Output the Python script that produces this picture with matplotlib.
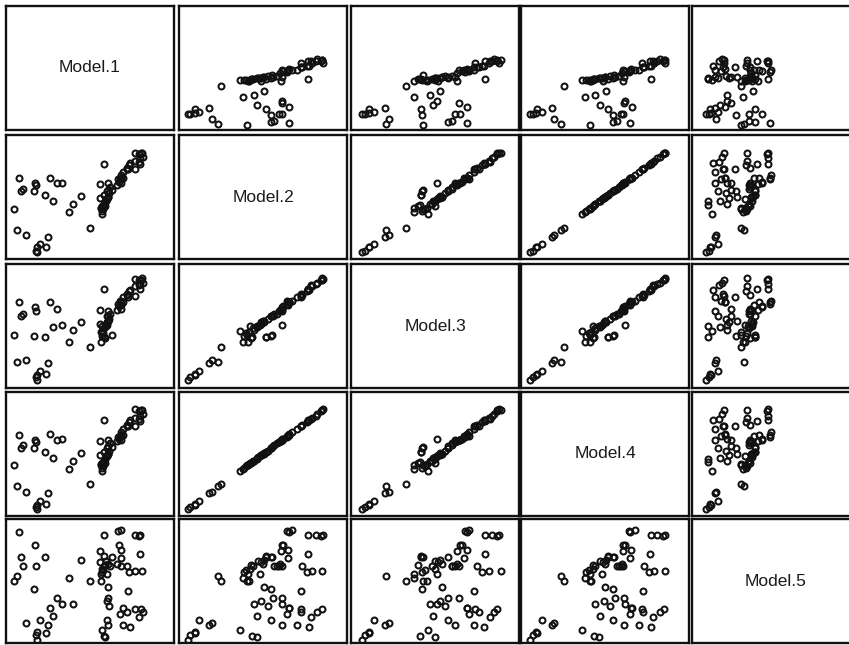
import matplotlib
matplotlib.use("Agg")
import matplotlib.pyplot as plt

# scatterplot matrix of five model outputs (scaled 0-1)
names = ["Model.1", "Model.2", "Model.3", "Model.4", "Model.5"]

model1 = [0.063, 0.119, 0.252, 0.202, 0.186, 0.179, 0.238, 0.183,
          0.048, 0.079, 0.087, 0.103, 0.173, 0.177, 0.169, 0.232, 0.262, 0.278,
          0.302, 0.331, 0.377, 0.397, 0.444, 0.560, 0.500,
          0.583, 0.669, 0.683, 0.768, 0.798, 0.790, 0.675, 0.683, 0.798, 0.583,
          0.629, 0.683, 0.560, 0.569, 0.589, 0.619, 0.659, 0.683, 0.718, 0.768,
          0.565, 0.563, 0.609, 0.728, 0.609, 0.599, 0.615, 0.698, 0.718, 0.679,
          0.768, 0.813, 0.794, 0.694, 0.569, 0.583, 0.590, 0.575, 0.585, 0.595,
          0.605, 0.572, 0.600, 0.730, 0.810, 0.805, 0.740, 0.600, 0.610]
model2 = [0.235, 0.197, 0.181, 0.122, 0.095, 0.068, 0.095, 0.054,
          0.405, 0.654, 0.549, 0.568, 0.614, 0.595, 0.546, 0.519, 0.657, 0.465,
          0.614, 0.614, 0.378, 0.446, 0.508, 0.608, 0.251,
          0.770, 0.644, 0.674, 0.857, 0.814, 0.845, 0.620, 0.650, 0.770, 0.520,
          0.554, 0.650, 0.488, 0.424, 0.428, 0.584, 0.600, 0.614, 0.734, 0.794,
          0.414, 0.408, 0.504, 0.724, 0.560, 0.490, 0.530, 0.654, 0.728, 0.644,
          0.724, 0.824, 0.784, 0.704, 0.364, 0.434, 0.464, 0.400, 0.440, 0.470,
          0.500, 0.385, 0.480, 0.760, 0.854, 0.854, 0.774, 0.548, 0.614]
model3 = [0.210, 0.225, 0.200, 0.135, 0.105, 0.085, 0.110, 0.063,
          0.430, 0.690, 0.580, 0.600, 0.650, 0.620, 0.420, 0.415, 0.690, 0.490,
          0.640, 0.510, 0.375, 0.470, 0.530, 0.630, 0.330,
          0.800, 0.680, 0.700, 0.880, 0.840, 0.870, 0.660, 0.690, 0.800, 0.415,
          0.430, 0.670, 0.520, 0.500, 0.400, 0.600, 0.630, 0.640, 0.750, 0.820,
          0.450, 0.375, 0.540, 0.730, 0.580, 0.530, 0.560, 0.690, 0.760, 0.700,
          0.740, 0.850, 0.830, 0.730, 0.457, 0.410, 0.500, 0.440, 0.480, 0.500,
          0.540, 0.420, 0.510, 0.780, 0.890, 0.870, 0.790, 0.580, 0.620]
model4 = [0.240, 0.195, 0.185, 0.125, 0.092, 0.070, 0.098, 0.055,
          0.410, 0.650, 0.545, 0.570, 0.610, 0.598, 0.548, 0.515, 0.660, 0.468,
          0.612, 0.618, 0.380, 0.442, 0.505, 0.605, 0.255,
          0.772, 0.640, 0.678, 0.860, 0.810, 0.848, 0.622, 0.655, 0.768, 0.518,
          0.556, 0.648, 0.490, 0.426, 0.430, 0.586, 0.602, 0.610, 0.730, 0.790,
          0.416, 0.410, 0.502, 0.726, 0.562, 0.492, 0.528, 0.656, 0.725, 0.646,
          0.722, 0.826, 0.786, 0.702, 0.366, 0.436, 0.462, 0.402, 0.442, 0.472,
          0.498, 0.388, 0.482, 0.762, 0.856, 0.852, 0.776, 0.550, 0.616]
model5 = [0.541, 0.158, 0.145, 0.186, 0.090, 0.063, 0.077, 0.027,
          0.500, 0.896, 0.697, 0.617, 0.787, 0.617, 0.432, 0.697, 0.281, 0.220,
          0.361, 0.317, 0.527, 0.317, 0.672, 0.740, 0.500,
          0.869, 0.902, 0.910, 0.869, 0.869, 0.860, 0.787, 0.754, 0.719, 0.700,
          0.691, 0.686, 0.650, 0.596, 0.628, 0.623, 0.637, 0.623, 0.623, 0.582,
          0.500, 0.555, 0.454, 0.418, 0.363, 0.336, 0.295, 0.281, 0.254, 0.235,
          0.276, 0.249, 0.208, 0.145, 0.104, 0.055, 0.049, 0.590, 0.620, 0.660,
          0.640, 0.570, 0.560, 0.574, 0.582, 0.273, 0.126, 0.186, 0.145]

data = [model1, model2, model3, model4, model5]

# axis limits per variable when used as x or y
xlims = [(0, 1), (0, 1), (0, 1), (0, 1), (-0.165, 2.13)]
ylims = [(-0.007, 1.43), (0, 1), (0, 1), (0, 1), (0, 1)]

plt.rcParams['font.family'] = ['Liberation Sans', 'DejaVu Sans']

fig = plt.figure(figsize=(8.49, 6.45), dpi=100)
W, H = 849.0, 645.0
col_left = [6, 179, 351, 521, 692]
row_top = [6, 135, 264, 392, 519]
pw, ph = 168, 124

for i in range(5):
    for j in range(5):
        ax = fig.add_axes([col_left[j] / W, 1 - (row_top[i] + ph) / H, pw / W, ph / H])
        ax.set_xticks([])
        ax.set_yticks([])
        for s in ax.spines.values():
            s.set_linewidth(1.7)
            s.set_color('#111111')
        if i == j:
            ax.set_xlim(0, 1)
            ax.set_ylim(0, 1)
            ax.text(0.5, 0.5, names[i], ha='center', va='center', fontsize=12.5, color='#1a1a1a')
        else:
            ax.plot(data[j], data[i], 'o', ms=4.3, mfc='none', mec='#111111', mew=1.45)
            ax.set_xlim(*xlims[j])
            ax.set_ylim(*ylims[i])

fig.savefig("out.png", dpi=100)
